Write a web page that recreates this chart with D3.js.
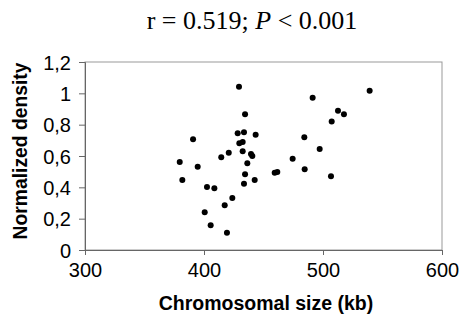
<!DOCTYPE html>
<html>
<head>
<meta charset="utf-8">
<script src="https://cdn.jsdelivr.net/npm/d3@7"></script>
<style>
body { margin: 0; background: #fff; }
</style>
</head>
<body>
<div id="chart-area"></div>
<script>
// chromosomal size (kb) vs normalized density
var sizes = [429.4, 434.5, 428.3, 433.6, 443.4, 390.8, 429.7, 432.5, 420.8, 414.5,
	432.5, 439.5, 440.6, 379.6, 394.7, 436.4, 459.4, 461.6, 381.8, 434.5,
	442.6, 433.6, 402.5, 408.7, 423.8, 417.4, 400.6, 405.6, 419.3,
	539.2, 491.3, 512.6, 517.6, 507.3, 484.3, 497.2, 474.5, 484.6, 506.7];
var densities = [1.042, 0.866, 0.745, 0.751, 0.736, 0.707, 0.681, 0.689, 0.621, 0.592,
	0.630, 0.613, 0.600, 0.562, 0.532, 0.553, 0.493, 0.498, 0.447, 0.483,
	0.447, 0.423, 0.402, 0.394, 0.332, 0.285, 0.241, 0.158, 0.110,
	1.017, 0.972, 0.889, 0.866, 0.821, 0.719, 0.645, 0.583, 0.515, 0.470];
var xTicks = [300, 400, 500, 600];
var yTicks = [0, 0.2, 0.4, 0.6, 0.8, 1, 1.2];

var width = 459;
var height = 322;
var margin = {left: 85, right: 17, top: 62, bottom: 72};
var w = width - margin.left - margin.right;
var h = height - margin.top - margin.bottom;

var svg = d3.select("#chart-area")
	.append("svg")
	.attr("width", width)
	.attr("height", height);

var g = svg.append("g")
	.attr("transform", "translate(" + margin.left + "," + margin.top + ")");

var x = d3.scaleLinear().domain([300, 600]).range([0, w]);
var y = d3.scaleLinear().domain([0, 1.2]).range([h, 0]);

// frame on top / right
g.append("rect")
	.attr("x", 0).attr("y", 0)
	.attr("width", w).attr("height", h)
	.attr("fill", "none")
	.attr("stroke", "#999")
	.attr("stroke-width", 1);

var xAxis = d3.axisBottom(x)
	.tickValues(xTicks)
	.tickSize(5)
	.tickPadding(8)
	.tickFormat(d3.format("d"));

var yAxis = d3.axisLeft(y)
	.tickValues(yTicks)
	.tickSize(6)
	.tickPadding(8)
	.tickFormat((d) => String(d).replace(".", ","));

var xg = g.append("g")
	.attr("transform", "translate(0," + h + ")")
	.call(xAxis);
var yg = g.append("g").call(yAxis);

[xg, yg].forEach((a) => {
	a.select(".domain").attr("stroke", "#666");
	a.selectAll(".tick line").attr("stroke", "#666");
	a.selectAll("text")
		.attr("font-family", "Liberation Sans, Arial, sans-serif")
		.attr("font-size", "20px")
		.attr("fill", "#000");
});
yg.selectAll("text").attr("dy", "0.36em");

g.selectAll("circle")
	.data(sizes.map((s, i) => ({size: s, dens: densities[i]})))
	.enter()
	.append("circle")
	.attr("cx", (d) => x(d.size))
	.attr("cy", (d) => y(d.dens))
	.attr("r", 3)
	.attr("fill", "#000");

// labels
svg.append("text")
	.attr("x", 266)
	.attr("y", 310)
	.attr("text-anchor", "middle")
	.attr("font-family", "Liberation Sans, Arial, sans-serif")
	.attr("font-weight", "bold")
	.attr("font-size", "19.5px")
	.text("Chromosomal size (kb)");

svg.append("text")
	.attr("transform", "translate(27,151) rotate(-90)")
	.attr("text-anchor", "middle")
	.attr("font-family", "Liberation Sans, Arial, sans-serif")
	.attr("font-weight", "bold")
	.attr("font-size", "19.3px")
	.text("Normalized density");

var title = svg.append("text")
	.attr("x", 252)
	.attr("y", 29)
	.attr("text-anchor", "middle")
	.attr("font-family", "Liberation Serif, Times New Roman, serif")
	.attr("font-size", "26px");
title.append("tspan").text("r = 0.519; ");
title.append("tspan").attr("font-style", "italic").text("P");
title.append("tspan").text(" < 0.001");
</script>
</body>
</html>
